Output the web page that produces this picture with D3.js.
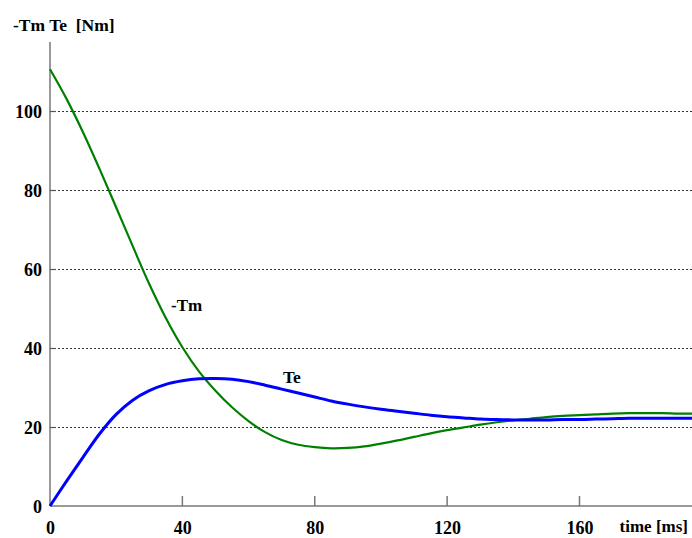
<!DOCTYPE html>
<html>
<head>
<meta charset="utf-8">
<script src="https://cdn.jsdelivr.net/npm/d3@7"></script>
<style>
html,body{margin:0;padding:0;background:#fff;}
svg{display:block;}
text{font-family:"Liberation Serif","Times New Roman",serif;font-weight:bold;fill:#000;}
</style>
</head>
<body>
<svg id="chart" width="692" height="538"></svg>
<script>
// time samples [ms]
const timeMs = [0,5,10,15,20,25,30,35,40,45,50,55,60,65,70,75,80,85,90,95,100,105,110,115,120,125,130,135,140,145,150,155,160,165,170,175,180,185,190,194];
// -Tm [Nm]
const minusTm = [110.6,103.1,94.6,85.3,75.6,65.8,56.2,47.6,40.2,34.1,29.2,25.0,21.5,18.7,16.7,15.5,14.9,14.6,14.7,15.1,15.8,16.6,17.5,18.4,19.2,19.9,20.6,21.2,21.7,22.1,22.5,22.8,23.0,23.2,23.4,23.5,23.5,23.5,23.4,23.4];
// Te [Nm]
const te = [0,6.3,12.4,18.3,23.2,26.8,29.2,30.8,31.7,32.2,32.3,32.1,31.5,30.6,29.6,28.6,27.6,26.6,25.8,25.1,24.5,24.0,23.5,23.0,22.6,22.3,22.0,21.9,21.8,21.8,21.8,21.9,21.9,22.0,22.1,22.2,22.2,22.2,22.2,22.2];

const xTicks = [0,40,80,120,160];
const yTicks = [0,20,40,60,80,100];
const yGrid = [20,40,60,80,100];

const svg = d3.select("#chart");
const x = d3.scaleLinear().domain([0,194]).range([50,692]);
const y = d3.scaleLinear().domain([0,117.5]).range([506,42]);
const FONT = '"Liberation Serif", "Times New Roman", serif';

// grid
svg.append("g").selectAll("line").data(yGrid).join("line")
  .attr("x1", x(0)).attr("x2", 692)
  .attr("y1", d => Math.round(y(d)) + 0.5).attr("y2", d => Math.round(y(d)) + 0.5)
  .attr("stroke", "#333").attr("stroke-width", 1).attr("stroke-dasharray", "2,2");

// x axis
const xAxis = d3.axisBottom(x).tickValues(xTicks).tickSize(0).tickFormat(d3.format("d"));
const gx = svg.append("g").attr("transform", "translate(0,506)").call(xAxis);
gx.attr("font-family", FONT);
gx.select(".domain").remove();
gx.selectAll("text").attr("font-size", 18).attr("dy", 0).attr("y", 28)
  .style("font-family", FONT).style("font-weight", "bold");
svg.append("line").attr("x1", x(0)).attr("x2", 692).attr("y1", 506).attr("y2", 506)
  .attr("stroke", "#777").attr("stroke-width", 1.5);
svg.append("g").selectAll("line").data(xTicks.filter(d => d > 0)).join("line")
  .attr("x1", d => x(d)).attr("x2", d => x(d)).attr("y1", 506).attr("y2", 496)
  .attr("stroke", "#777").attr("stroke-width", 1.5);

// y axis
const yAxis = d3.axisLeft(y).tickValues(yTicks).tickSize(0).tickPadding(8).tickFormat(d3.format("d"));
const gy = svg.append("g").attr("transform", "translate(50,0)").call(yAxis);
gy.attr("font-family", FONT);
gy.select(".domain").remove();
gy.selectAll("text").attr("font-size", 18).attr("dy", "0.36em")
  .style("font-family", FONT).style("font-weight", "bold");
svg.append("line").attr("x1", 50).attr("x2", 50).attr("y1", 42).attr("y2", 506)
  .attr("stroke", "#777").attr("stroke-width", 1.5);
svg.append("g").selectAll("line").data(yGrid).join("line")
  .attr("x1", 50).attr("x2", 56).attr("y1", d => Math.round(y(d)) + 0.5).attr("y2", d => Math.round(y(d)) + 0.5)
  .attr("stroke", "#555").attr("stroke-width", 1.2);

// lines
const line = (vals) => d3.line().x((d,i) => x(timeMs[i])).y(d => y(d)).curve(d3.curveCatmullRom.alpha(0.5))(vals);
svg.append("path").attr("d", line(minusTm)).attr("fill", "none").attr("stroke", "#008000").attr("stroke-width", 2.2);
svg.append("path").attr("d", line(te)).attr("fill", "none").attr("stroke", "#0000ff").attr("stroke-width", 3);

// labels
svg.append("text").attr("x", 13).attr("y", 31).attr("font-size", 17.5).style("white-space","pre").text("-Tm Te  [Nm]");
svg.append("text").attr("x", 688).attr("y", 532).attr("font-size", 17).attr("text-anchor", "end").text("time [ms]");
svg.append("text").attr("x", 171).attr("y", 311).attr("font-size", 17).text("-Tm");
svg.append("text").attr("x", 283).attr("y", 383).attr("font-size", 17.5).text("Te");
</script>
</body>
</html>
